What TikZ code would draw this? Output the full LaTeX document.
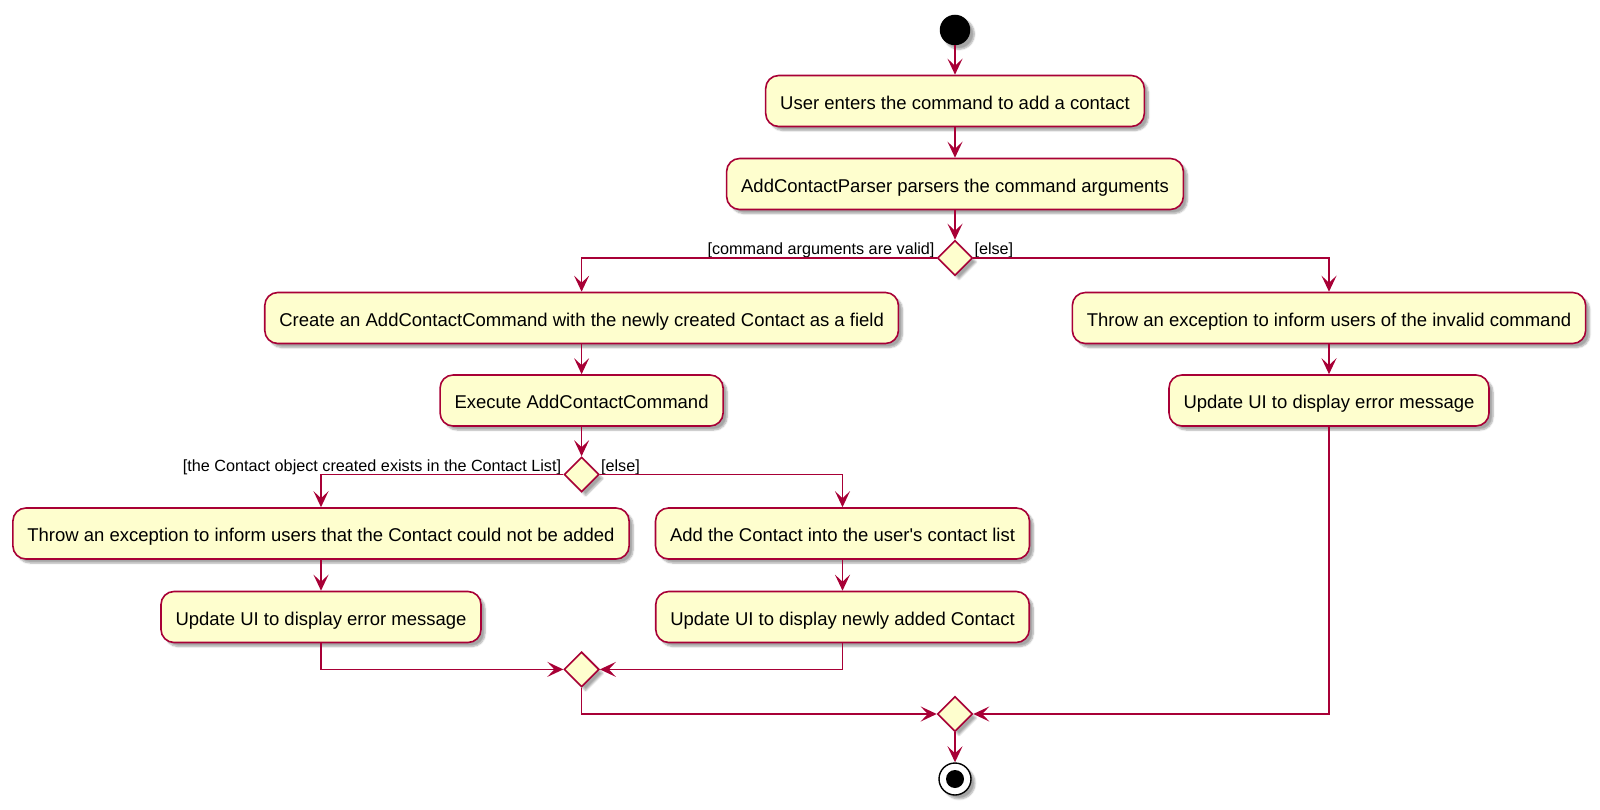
\documentclass[tikz,border=0pt]{standalone}
\usepackage{fontspec}
\newfontfamily\umlfont{Liberation Sans}
\usetikzlibrary{shapes.geometric,arrows.meta,shadows.blur}
\definecolor{umlborder}{HTML}{A80036}
\definecolor{umlfill}{HTML}{FEFECE}
\tikzset{
  umlshadow/.style={blur shadow={shadow xshift=4pt, shadow yshift=-4pt, shadow blur steps=6, shadow opacity=35}},
  act/.style={draw=umlborder, fill=umlfill, line width=1.6pt, rounded corners=13pt,
    minimum height=51pt, inner xsep=14.5pt, inner ysep=0pt,
    text height=16.5pt, text depth=0pt,
    font=\umlfont\fontsize{18.5}{22}\selectfont, umlshadow},
  choice/.style={diamond, aspect=1, draw=umlborder, fill=umlfill, line width=1.6pt,
    minimum width=35pt, minimum height=35pt, inner sep=0pt, umlshadow},
  flow/.style={draw=umlborder, line width=1.6pt,
    -{Stealth[length=16pt, width=15pt, inset=7pt]}},
  guard/.style={font=\umlfont\fontsize{16.2}{19}\selectfont, inner sep=0pt},
}
\begin{document}
\begin{tikzpicture}[x=1pt, y=-1pt]
\useasboundingbox (0,0) rectangle (1600,810);

% start and end markers
\node[circle, fill=black, minimum size=30.5pt, inner sep=0pt, umlshadow] (start) at (955,30) {};
\node[circle, draw=black, fill=white, line width=1.4pt, minimum size=32pt, inner sep=0pt, umlshadow] (stop) at (955,779) {};
\node[circle, fill=black, minimum size=18pt, inner sep=0pt] (stopdot) at (stop.center) {};

% activities
\node[act] (b1) at (955,101) {User enters the command to add a contact};
\node[act] (b2) at (955,184) {AddContactParser parsers the command arguments};
\node[choice] (d1) at (955,258) {};
\node[act] (b3) at (581.6,318) {Create an AddContactCommand with the newly created Contact as a field};
\node[act] (b4) at (581.6,400.5) {Execute AddContactCommand};
\node[act] (r1) at (1329,318) {Throw an exception to inform users of the invalid command};
\node[act] (r2) at (1329,400.5) {Update UI to display error message};
\node[choice] (d2) at (581.6,474.5) {};
\node[act] (b5) at (321,533.5) {Throw an exception to inform users that the Contact could not be added};
\node[act] (b6) at (321,617) {Update UI to display error message};
\node[act] (b7) at (842.5,533.5) {Add the Contact into the user's contact list};
\node[act] (b8) at (842.5,617) {Update UI to display newly added Contact};
\node[choice] (m1) at (581.6,669.4) {};
\node[choice] (m2) at (955,714) {};

% guards
\node[guard, anchor=base east] (g1) at ([xshift=-2pt, yshift=3.5pt]d1.west) {[command arguments are valid]};
\node[guard, anchor=base west] (g2) at ([xshift=1pt, yshift=3.5pt]d1.east) {[else]};
\node[guard, anchor=base east] (g3) at ([xshift=-2pt, yshift=3.5pt]d2.west) {[the Contact object created exists in the Contact List]};
\node[guard, anchor=base west] (g4) at ([xshift=1pt, yshift=3.5pt]d2.east) {[else]};

% flows
\draw[flow] (start) -- (b1);
\draw[flow] (b1) -- (b2);
\draw[flow] (b2) -- (d1);
\draw[flow] (d1.west) -| (b3.north);
\draw[flow] (d1.east) -| (r1.north);
\draw[flow] (b3) -- (b4);
\draw[flow] (b4) -- (d2);
\draw[flow] (r1) -- (r2);
\draw[flow] (d2.west) -| (b5.north);
\draw[flow] (d2.east) -| (b7.north);
\draw[flow] (b5) -- (b6);
\draw[flow] (b7) -- (b8);
\draw[flow] (b6.south) |- (m1.west);
\draw[flow] (b8.south) |- (m1.east);
\draw[flow] (m1.south) |- (m2.west);
\draw[flow] (r2.south) |- (m2.east);
\draw[flow] (m2) -- (stop);
\end{tikzpicture}
\end{document}
